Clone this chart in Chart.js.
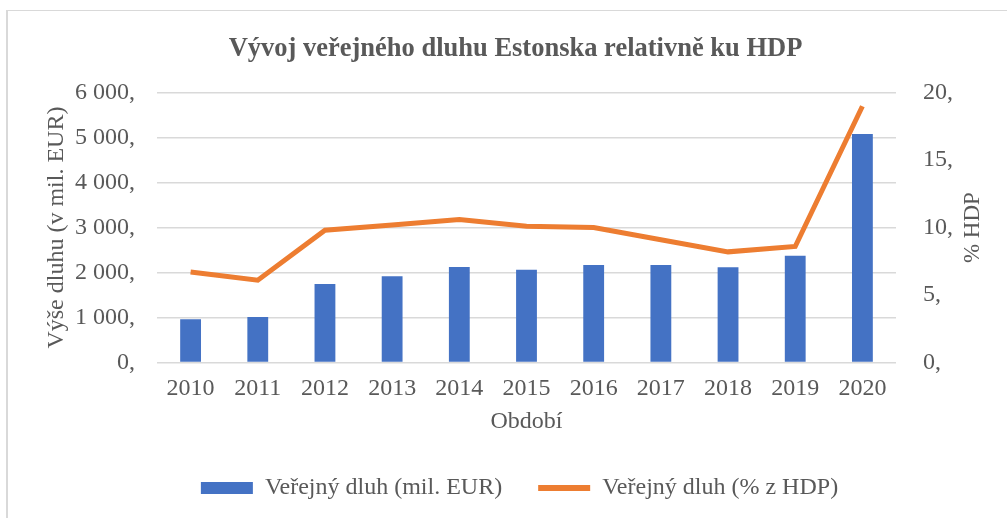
<!DOCTYPE html>
<html>
<head>
<meta charset="utf-8">
<script src="https://cdn.jsdelivr.net/npm/chart.js@4.4.1/dist/chart.umd.min.js"></script>
<style>
  html, body { margin: 0; padding: 0; background: #ffffff; }
  #wrap { position: relative; width: 1007px; height: 518px; overflow: hidden; }
  #frame { position: absolute; left: 6px; top: 10px; width: 1100px; height: 600px;
           border-left: 2px solid #d9d9d9; border-top: 1px solid #d9d9d9; }
  canvas { position: absolute; left: 0; top: 0; }
</style>
</head>
<body>
<div id="wrap">
  <div id="frame"></div>
  <canvas id="chart" width="1007" height="518"></canvas>
</div>
<script>
// Estonian public debt, 2010–2020
const years = ['2010', '2011', '2012', '2013', '2014', '2015', '2016', '2017', '2018', '2019', '2020'];
const debtMilEur = [962, 1008, 1746, 1920, 2123, 2062, 2168, 2165, 2115, 2372, 5082];
const debtPctGdp = [6.7, 6.1, 9.8, 10.2, 10.6, 10.1, 10.0, 9.1, 8.2, 8.6, 19.0];

const leftTickValues = [0, 1000, 2000, 3000, 4000, 5000, 6000];
const rightTickValues = [0, 5, 10, 15, 20];

const chartTitle = 'Vývoj veřejného dluhu Estonska relativně ku HDP';
const leftAxisTitle = 'Výše dluhu (v mil. EUR)';
const rightAxisTitle = '% HDP';
const xAxisTitle = 'Období';
const seriesNames = ['Veřejný dluh (mil. EUR)', 'Veřejný dluh (% z HDP)'];

const SERIF = '"Liberation Serif", "Times New Roman", serif';
const TEXT = '#595959';
const GRID = '#d9d9d9';
const BLUE = '#4472C4';
const ORANGE = '#ED7D31';
const FONT = { family: SERIF, size: 24 };

// "6 000," style labels: space as thousands separator, trailing comma
function fmt(v) {
  return String(v).replace(/\B(?=(\d{3})+(?!\d))/g, ' ') + ',';
}

// Right-hand axis title, reading bottom to top
const rightTitlePlugin = {
  id: 'rightTitle',
  afterDraw(chart) {
    const { ctx, chartArea } = chart;
    const s = chart.scales.y1;
    ctx.save();
    ctx.translate(s.right - 34, (chartArea.top + chartArea.bottom) / 2);
    ctx.rotate(-Math.PI / 2);
    ctx.font = '23px ' + SERIF;
    ctx.fillStyle = TEXT;
    ctx.textAlign = 'center';
    ctx.textBaseline = 'middle';
    ctx.fillText(rightAxisTitle, 0, 0);
    ctx.restore();
  }
};

// Centre the title and legend rows on the plot rather than the canvas
const boxShiftPlugin = {
  id: 'boxShift',
  afterLayout(chart) {
    const lg = chart.legend;
    if (lg) { lg.left += 16; lg.right += 16; }
    const tb = chart.titleBlock;
    if (tb) { tb.left += 12; tb.right += 12; }
  }
};

new Chart(document.getElementById('chart'), {
  data: {
    labels: years,
    datasets: [
      {
        type: 'bar',
        label: seriesNames[0],
        data: debtMilEur,
        backgroundColor: BLUE,
        yAxisID: 'y',
        barPercentage: 0.31,
        categoryPercentage: 1,
        order: 1
      },
      {
        type: 'line',
        label: seriesNames[1],
        data: debtPctGdp,
        borderColor: ORANGE,
        backgroundColor: ORANGE,
        borderWidth: 5,
        pointRadius: 0,
        tension: 0,
        yAxisID: 'y1',
        order: 0
      }
    ]
  },
  options: {
    responsive: false,
    animation: false,
    devicePixelRatio: 1,
    layout: { padding: { left: 0, right: 0, top: 0, bottom: 8 } },
    plugins: {
      title: {
        display: true,
        text: chartTitle,
        color: TEXT,
        font: { family: SERIF, size: 26.5, weight: 'bold' },
        padding: { top: 33, bottom: 28 }
      },
      legend: {
        position: 'bottom',
        labels: {
          usePointStyle: true,
          pointStyleWidth: 52,
          boxHeight: 12,
          padding: 36,
          color: TEXT,
          font: FONT,
          generateLabels(chart) {
            return chart.data.datasets.map((ds, i) => ({
              text: ds.label,
              datasetIndex: i,
              fillStyle: ds.type === 'bar' ? BLUE : ORANGE,
              strokeStyle: ds.type === 'bar' ? BLUE : ORANGE,
              lineWidth: ds.type === 'bar' ? 0 : 6,
              pointStyle: ds.type === 'bar' ? 'rect' : 'line',
              fontColor: TEXT,
              hidden: false
            }));
          }
        }
      },
      tooltip: { enabled: false }
    },
    scales: {
      x: {
        grid: { display: false, drawTicks: false },
        border: { display: false },
        ticks: { color: TEXT, font: FONT, padding: 12, maxRotation: 0, autoSkip: false },
        title: { display: true, text: xAxisTitle, color: TEXT, font: FONT, padding: { top: -8, bottom: 4 } }
      },
      y: {
        position: 'left',
        min: 0,
        max: 6000,
        afterBuildTicks(s) { s.ticks = leftTickValues.map(v => ({ value: v })); },
        ticks: { color: TEXT, font: FONT, padding: 22, callback: v => fmt(v) },
        grid: { color: GRID, lineWidth: 1.5, drawTicks: false },
        border: { display: false },
        title: { display: true, text: leftAxisTitle, color: TEXT, font: FONT, padding: { top: 42, bottom: 0 } },
        afterFit(s) { s.width = 157; }
      },
      y1: {
        position: 'right',
        min: 0,
        max: 20,
        afterBuildTicks(s) { s.ticks = rightTickValues.map(v => ({ value: v })); },
        ticks: { color: TEXT, font: FONT, padding: 27, callback: v => fmt(v) },
        grid: { display: false, drawTicks: false },
        border: { display: false },
        afterFit(s) { s.width = 111; }
      }
    }
  },
  plugins: [rightTitlePlugin, boxShiftPlugin]
});
</script>
</body>
</html>
